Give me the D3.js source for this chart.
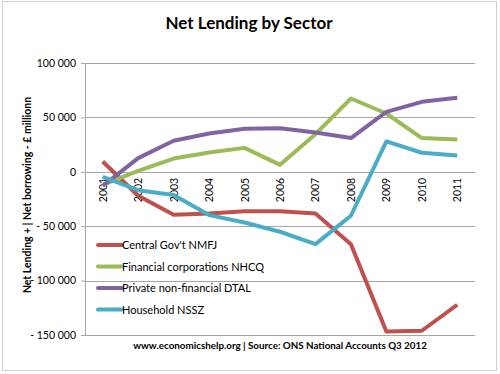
<!DOCTYPE html>
<html>
<head>
<meta charset="utf-8">
<script src="https://cdn.jsdelivr.net/npm/d3@7"></script>
<style>
    body { margin: 0; background: #fff; }
    svg text { font-family: Lato, "Open Sans", sans-serif; }
</style>
</head>
<body>
<div id="chart"></div>
<script>

// data (£ million)
const years = ["2001", "2002", "2003", "2004", "2005", "2006", "2007", "2008", "2009", "2010", "2011"];

const centralGov = [9500, -22000, -39500, -38300, -36200, -36200, -38300, -66500, -146800, -146100, -122200];
const financialCorp = [-12000, 900, 12200, 17700, 22000, 6400, 34600, 67400, 53600, 31000, 29700];
const privateNonFin = [-12900, 12600, 28500, 35200, 39500, 40100, 36100, 31000, 55100, 64300, 68000];
const household = [-4600, -16900, -21400, -39800, -46600, -55100, -66500, -40400, 27900, 17500, 15000];

const seriesNames = ["Central Gov't NMFJ", "Financial corporations NHCQ", "Private non-financial DTAL", "Household NSSZ"];
const seriesColors = ["#C0504D", "#9BBB59", "#8064A2", "#4BACC6"];

const yTicks = [100000, 50000, 0, -50000, -100000, -150000];

let series = [centralGov, financialCorp, privateNonFin, household].map((vals, i) => {
    return {
        name: seriesNames[i],
        color: seriesColors[i],
        values: vals.map((v, j) => ({ year: years[j], value: v }))
    };
});

let margin = { top: 63, right: 25, bottom: 39, left: 85 };
let width = 500 - margin.left - margin.right;
let height = 374 - margin.top - margin.bottom;

let svg = d3.select("#chart").append("svg")
    .attr("width", 500)
    .attr("height", 374);

// outer frame
svg.append("rect")
    .attr("x", 2.5)
    .attr("y", 1.5)
    .attr("width", 494)
    .attr("height", 369)
    .attr("fill", "none")
    .attr("stroke", "#cfcfcf")
    .attr("stroke-width", 1);

let g = svg.append("g")
    .attr("transform", "translate(" + margin.left + "," + margin.top + ")");

// scales
let x = d3.scalePoint()
    .domain(years)
    .range([0, width])
    .padding(0.5);

let y = d3.scaleLinear()
    .domain([-150000, 100000])
    .range([height, 0]);

let fmt = function(v) {
    let s = d3.format(",")(Math.abs(v)).replace(/,/g, " ");
    return v < 0 ? "-\u00a0" + s : s;
};

// gridlines
g.append("g")
    .selectAll("line")
    .data(yTicks)
    .join("line")
    .attr("x1", 0)
    .attr("x2", width)
    .attr("y1", d => Math.round(y(d)) + 0.5)
    .attr("y2", d => Math.round(y(d)) + 0.5)
    .attr("stroke", "#a6a6a6")
    .attr("stroke-width", 1);

// y axis
let yAxis = d3.axisLeft(y)
    .tickValues(yTicks)
    .tickSize(4)
    .tickPadding(5)
    .tickFormat(fmt);

let yAxisG = g.append("g")
    .attr("class", "axis y-axis")
    .call(yAxis);

yAxisG.select(".domain").attr("stroke", "#a6a6a6");
yAxisG.selectAll(".tick line").attr("stroke", "#a6a6a6");
yAxisG.selectAll("text")
    .style("font-size", "10.5px")
    .attr("fill", "#000");

// x tick labels, rotated, sitting under the zero line
g.append("g")
    .selectAll("text")
    .data(years)
    .join("text")
    .attr("transform", d => "translate(" + (x(d) + 4) + "," + (y(0) + 6) + ") rotate(-90)")
    .style("text-anchor", "end")
    .style("font-size", "10.5px")
    .text(d => d);

// lines
let line = d3.line()
    .x(d => x(d.year))
    .y(d => y(d.value));

g.selectAll(".line")
    .data(series)
    .join("path")
    .attr("class", "line")
    .attr("d", d => line(d.values))
    .attr("fill", "none")
    .attr("stroke", d => d.color)
    .attr("stroke-width", 4)
    .attr("stroke-linejoin", "round");

// legend
let legend = svg.append("g")
    .attr("transform", "translate(98,245)");

let items = legend.selectAll("g")
    .data(series)
    .join("g")
    .attr("transform", (d, i) => "translate(0," + (i * 21.5) + ")");

items.append("line")
    .attr("x1", 0)
    .attr("x2", 24)
    .attr("stroke", d => d.color)
    .attr("stroke-width", 4)
    .attr("stroke-linecap", "round");

items.append("text")
    .attr("x", 24)
    .attr("y", 4)
    .style("font-size", "11px")
    .text(d => d.name);

// title
svg.append("text")
    .attr("x", 249)
    .attr("y", 29)
    .style("text-anchor", "middle")
    .style("font-size", "17px")
    .style("font-weight", "bold")
    .text("Net Lending by Sector");

// y axis label
svg.append("text")
    .attr("transform", "translate(31,195) rotate(-90)")
    .style("text-anchor", "middle")
    .style("font-size", "10.5px")
    .style("font-weight", "bold")
    .text("Net Lending + | Net borrowing - £ millionn");

// source
svg.append("text")
    .attr("x", 280)
    .attr("y", 349)
    .style("text-anchor", "middle")
    .style("font-size", "9.8px")
    .style("font-weight", "bold")
    .text("www.economicshelp.org | Source: ONS National Accounts Q3 2012");

</script>
</body>
</html>
